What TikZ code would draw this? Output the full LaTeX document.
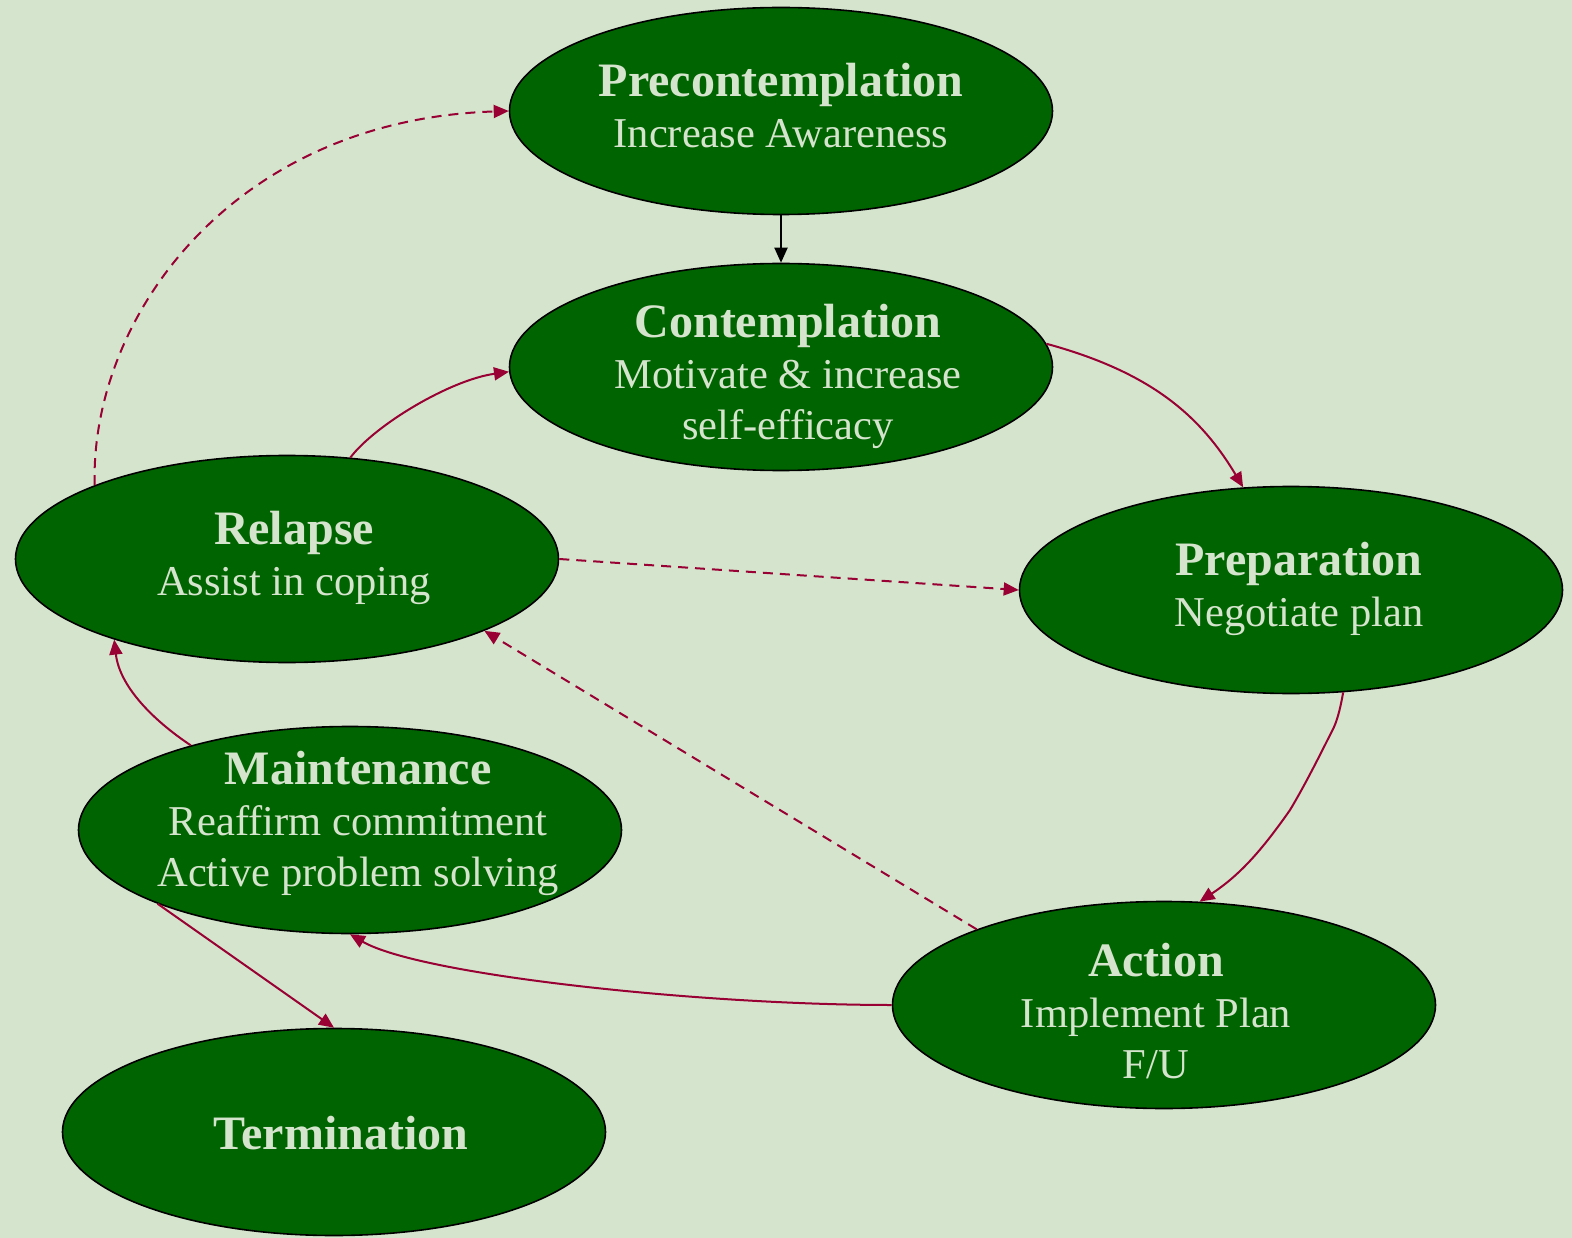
\documentclass[tikz,border=0pt]{standalone}
\usepackage{fontspec}
\setmainfont{Liberation Serif}
\usetikzlibrary{shapes.geometric,arrows.meta}
\definecolor{bgsage}{RGB}{213,228,205}
\definecolor{stagegreen}{RGB}{0,100,0}
\definecolor{flowred}{RGB}{153,0,51}
\newcommand\stagetitle[1]{{\fontsize{48}{51}\selectfont\bfseries #1}}
\begin{document}
\begin{tikzpicture}[x=1pt,y=-1pt,
  stage/.style={ellipse,draw=black,line width=1.6pt,fill=stagegreen,
    minimum width=543pt,minimum height=207pt,inner sep=0pt},
  stagetext/.style={text=bgsage,align=center,inner sep=0pt,
    font=\fontsize{42.5}{51}\selectfont},
  tip/.style={-{Triangle[length=15pt,width=13pt]}},
  flow/.style={draw=flowred,line width=2pt,tip},
  plainflow/.style={draw=black,line width=2pt,tip},
  backflow/.style={flow,dash pattern=on 10pt off 7pt}]

% canvas
\fill[bgsage] (0,0) rectangle (1572,1238);
\useasboundingbox (0,0) rectangle (1572,1238);

% stages
\node[stage] (pre)  at (781,111)  {};
\node[stage] (con)  at (781,367)  {};
\node[stage] (rel)  at (287,559)  {};
\node[stage] (prep) at (1291,590) {};
\node[stage] (main) at (350,830)  {};
\node[stage] (act)  at (1164,1005) {};
\node[stage] (term) at (334,1132) {};

% stage texts
\node[stagetext] (pre-t)  at (781,106)  {\stagetitle{Precontemplation}\\Increase Awareness};
\node[stagetext] (con-t)  at (788,376)  {\stagetitle{Contemplation}\\Motivate \& increase\\self-efficacy};
\node[stagetext] (rel-t)  at (294,558)  {\stagetitle{Relapse}\\Assist in coping};
\node[stagetext] (prep-t) at (1299,589) {\stagetitle{Preparation}\\Negotiate plan};
\node[stagetext] (main-t) at (358,823)  {\stagetitle{Maintenance}\\Reaffirm commitment\\Active problem solving};
\node[stagetext] (act-t)  at (1156,1011) {\stagetitle{Action}\\Implement Plan\\F/U};
\node[stagetext] (term-t) at (341,1133) {\stagetitle{Termination}};

% forward transitions
\draw[plainflow] (pre.south) -- (con.north);
\draw[flow] (con.5) .. controls (1150,372) and (1200,415) .. (prep.115);
\draw[flow] (prep.-63.9) .. controls (1341,705) and (1338,718) .. (1334,727)
  .. controls (1320,755) and (1305,785) .. (1290,810)
  .. controls (1262,850) and (1240,875) .. (act.71.6);
\draw[flow] (act.west) .. controls (700,1005) and (420,975) .. (main.south);
\draw[flow] (main.201) -- (term.north);
\draw[flow] (main.152) .. controls (160,725) and (120,690) .. (rel.205);
\draw[flow] (rel.58.5) .. controls (375,425) and (450,380) .. (con.181.7);

% relapse paths
\draw[backflow] (rel.159.6) .. controls (90,320) and (230,120) .. (pre.west);
\draw[backflow] (rel.east) -- (prep.west);
\draw[backflow] (act.158.7) -- (rel.-20.7);
\end{tikzpicture}
\end{document}
